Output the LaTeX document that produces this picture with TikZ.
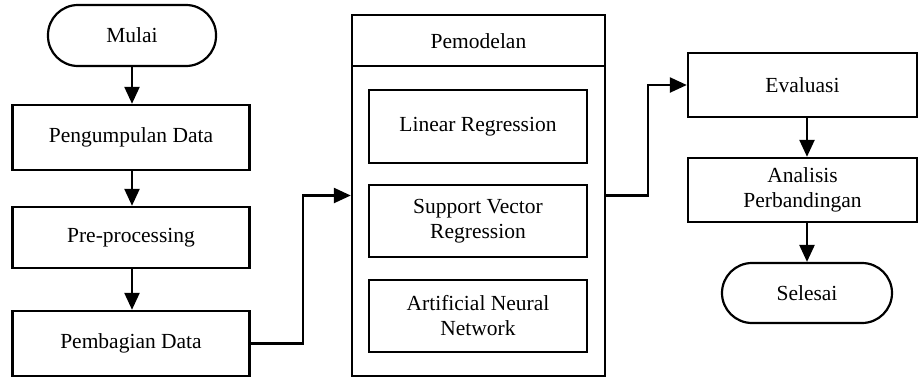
\documentclass[tikz,border=0pt]{standalone}
\usepackage{fontspec}
\setmainfont{Liberation Serif}
\usetikzlibrary{arrows.meta}
\begin{document}
\begin{tikzpicture}[x=1pt,y=-1pt,
  every node/.style={font=\fontsize{21.5pt}{25pt}\selectfont, inner sep=0pt, align=center},
  box/.style={draw, line width=2.4pt, rectangle},
  term/.style={draw, line width=2.2pt, rectangle, rounded corners=30pt},
  inbox/.style={draw, line width=2.4pt, rectangle, minimum width=218pt, minimum height=72pt},
  arr/.style={line width=2.4pt, -{Triangle[width=15pt,length=17pt]}}]
\useasboundingbox (0,0) rectangle (918,378);
% left column
\node[term, minimum width=168pt, minimum height=61pt] (mulai) at (132,35.5) {Mulai};
\node[box, minimum width=237pt, minimum height=65pt] (peng) at (131,137.5) {Pengumpulan Data};
\node[box, minimum width=237pt, minimum height=61pt] (pre) at (131,237.5) {Pre-processing};
\node[box, minimum width=237pt, minimum height=65pt] (pemb) at (131,343.5) {Pembagian Data};
% Pemodelan
\node[box, minimum width=253pt, minimum height=361pt] (pemo) at (478.5,195.5) {};
\coordinate (hl) at (352,66);
\coordinate (hr) at (605,66);
\draw[line width=2.4pt] (hl) -- (hr);
\node (title) at (478.5,41) {Pemodelan};
\node[inbox, minimum height=73pt] (lr) at (478,126.5) {Linear Regression};
\node[inbox] (svr) at (478,221) {Support Vector\\Regression};
\node[inbox] (ann) at (478,316) {Artificial Neural\\Network};
% right column
\node[box, minimum width=229pt, minimum height=64pt] (eval) at (802.5,85) {Evaluasi};
\node[box, minimum width=229pt, minimum height=64pt] (anal) at (802.5,190) {Analisis\\Perbandingan};
\node[term, minimum width=170pt, minimum height=60pt] (sel) at (807,293) {Selesai};
% arrows
\draw[arr] (mulai.south) -- (mulai.south |- peng.north);
\draw[arr] (peng.south -| mulai.south) -- (mulai.south |- pre.north);
\draw[arr] (pre.south -| mulai.south) -- (mulai.south |- pemb.north);
\draw[arr] (pemb.east) -- ++(52,0) |- (pemo.west);
\draw[arr] (pemo.east) -- ++(42,0) |- (eval.west);
\draw[arr] (eval.south -| sel.north) -- (sel.north |- anal.north);
\draw[arr] (anal.south -| sel.north) -- (sel.north);
\end{tikzpicture}
\end{document}
